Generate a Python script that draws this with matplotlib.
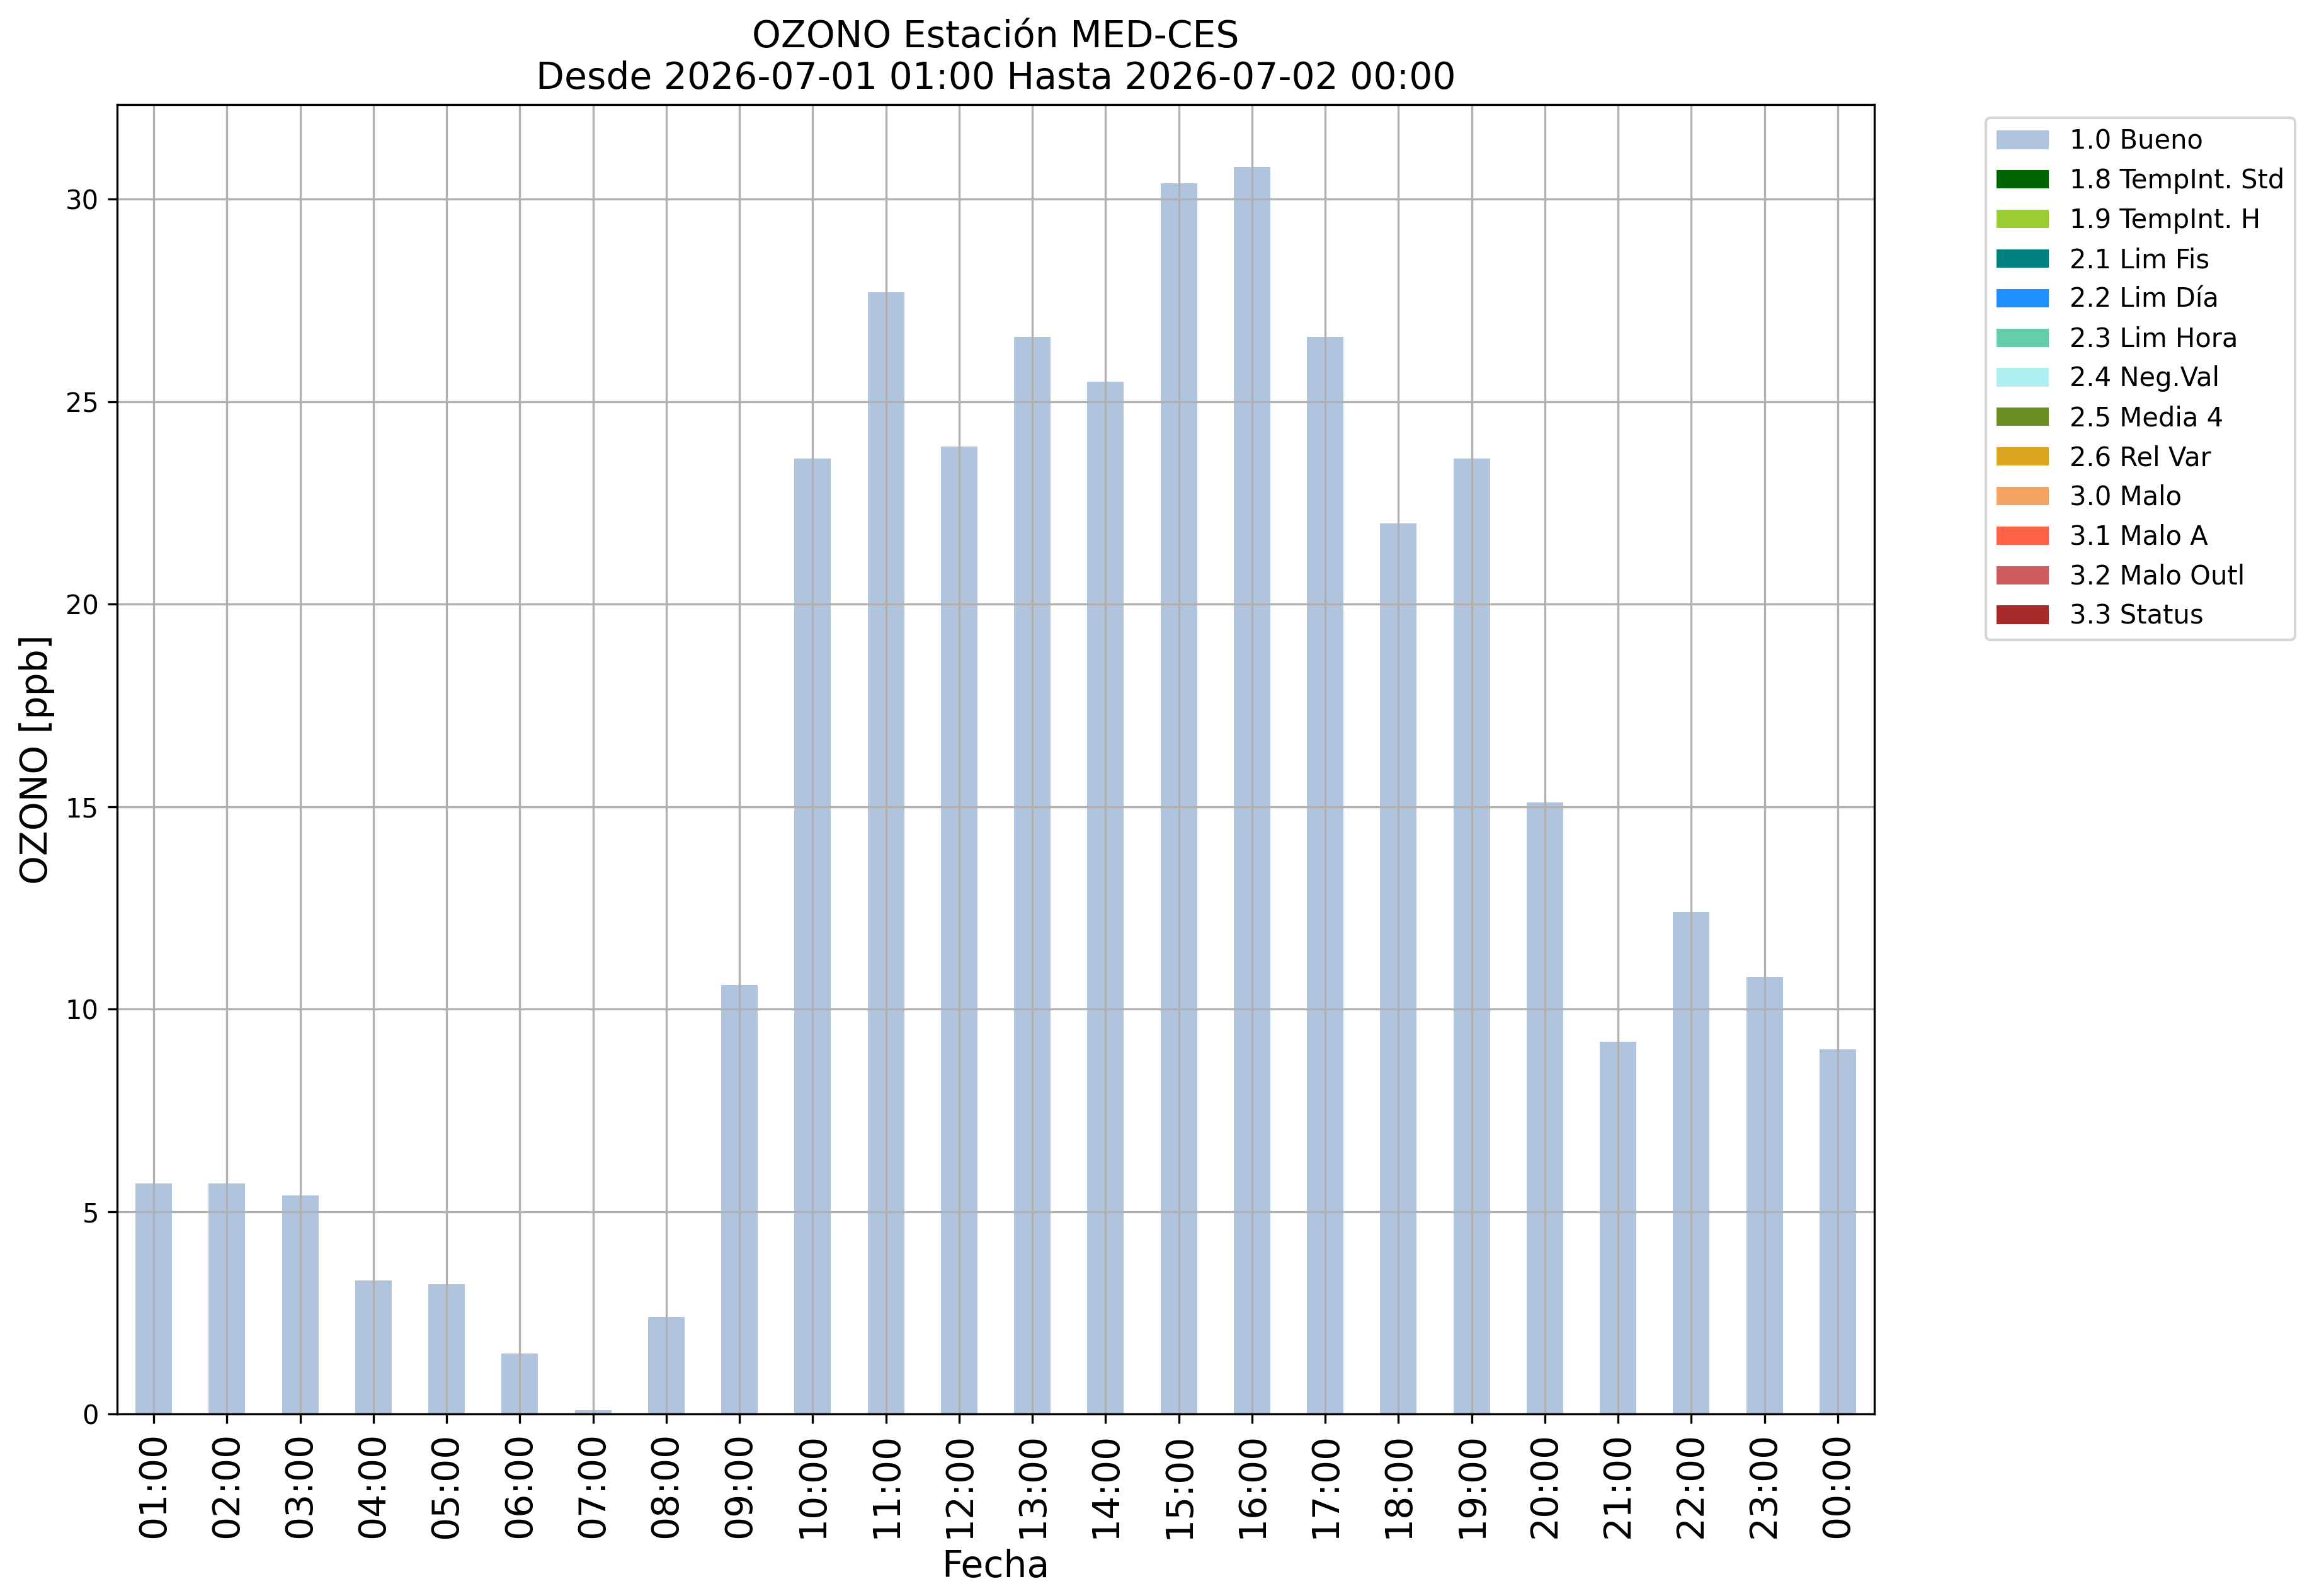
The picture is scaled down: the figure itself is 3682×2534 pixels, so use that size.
import matplotlib
matplotlib.use("Agg")
import matplotlib.pyplot as plt
from matplotlib.patches import Patch
import numpy as np

hours = ["01:00", "02:00", "03:00", "04:00", "05:00", "06:00", "07:00", "08:00",
         "09:00", "10:00", "11:00", "12:00", "13:00", "14:00", "15:00", "16:00",
         "17:00", "18:00", "19:00", "20:00", "21:00", "22:00", "23:00", "00:00"]
bueno = [5.7, 5.7, 5.4, 3.3, 3.2, 1.5, 0.1, 2.4, 10.6, 23.6, 27.7, 23.9,
         26.6, 25.5, 30.4, 30.8, 26.6, 22.0, 23.6, 15.1, 9.2, 12.4, 10.8, 9.0]

flag_labels = ["1.0 Bueno", "1.8 TempInt. Std", "1.9 TempInt. H", "2.1 Lim Fis",
               "2.2 Lim Día", "2.3 Lim Hora", "2.4 Neg.Val", "2.5 Media 4",
               "2.6 Rel Var", "3.0 Malo", "3.1 Malo A", "3.2 Malo Outl", "3.3 Status"]
flag_colors = ["lightsteelblue", "darkgreen", "yellowgreen", "teal", "dodgerblue",
               "mediumaquamarine", "paleturquoise", "olivedrab", "goldenrod",
               "sandybrown", "tomato", "indianred", "brown"]

title = "OZONO Estación MED-CES\nDesde 2026-07-01 01:00 Hasta 2026-07-02 00:00"

W, H = 3682, 2534
fig = plt.figure(figsize=(W / 300, H / 300), dpi=300)
ax = fig.add_axes([186 / W, 1 - 2245 / H, 2790 / W, 2079 / H])

x = np.arange(len(hours))
ax.bar(x, bueno, width=0.5, color=flag_colors[0], label=flag_labels[0])
ax.set_xlim(-0.5, len(hours) - 0.5)
ax.set_xticks(x)
ax.set_xticklabels(hours, rotation=90, fontsize=14)
ax.tick_params(axis="y", labelsize=10)
ax.grid(True)

ax.set_title(title, fontsize=14)
ax.set_xlabel("Fecha", fontsize=14)
ax.set_ylabel("OZONO [ppb]", fontsize=14)

handles = [Patch(facecolor=c, label=l) for c, l in zip(flag_colors, flag_labels)]
ax.legend(handles=handles, loc="upper left", bbox_to_anchor=(1.056, 1), fontsize=10)

fig.savefig("out.png", dpi=300)
